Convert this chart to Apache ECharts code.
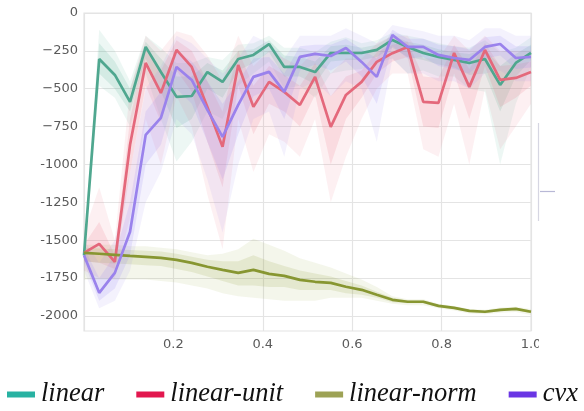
<!DOCTYPE html>
<html>
<head>
<meta charset="utf-8">
<script src="https://cdn.jsdelivr.net/npm/echarts@6/dist/echarts.min.js"></script>
<style>html,body{margin:0;padding:0;background:#fff}#c{width:584px;height:411px}</style>
</head>
<body>
<div id="c"></div>
<script>
const steps = [0, 0.034, 0.069, 0.103, 0.138, 0.172, 0.207, 0.241, 0.276, 0.310, 0.345, 0.379, 0.414, 0.448, 0.483, 0.517, 0.552, 0.586, 0.621, 0.655, 0.690, 0.724, 0.759, 0.793, 0.828, 0.862, 0.897, 0.931, 0.966, 1.0];
const xTicks = [0.2, 0.4, 0.6, 0.8, 1.0];
const yTicks = [0, -250, -500, -750, -1000, -1250, -1500, -1750, -2000];
const names = ['linear', 'linear-unit', 'linear-norm', 'cvx'];

const linearMean = [-1600,-304,-409,-587,-224,-390,-554,-548,-390,-455,-304,-277,-205,-356,-356,-390,-264,-264,-264,-244,-178,-224,-264,-290,-310,-330,-304,-475,-330,-264];
const linearOuterHi = [-1550,-110,-250,-450,-150,-230,-330,-330,-290,-310,-210,-200,-150,-230,-230,-260,-190,-160,-200,-180,-130,-150,-170,-200,-220,-230,-180,-260,-230,-160];
const linearOuterLo = [-1650,-480,-560,-750,-400,-700,-980,-850,-650,-700,-480,-400,-320,-500,-480,-560,-400,-380,-370,-330,-300,-400,-380,-420,-420,-500,-520,-1000,-600,-350];
const linearInnerHi = [-1570,-200,-320,-500,-190,-300,-420,-420,-330,-380,-250,-240,-180,-280,-290,-320,-220,-210,-230,-210,-150,-190,-210,-240,-260,-270,-240,-350,-270,-210];
const linearInnerLo = [-1630,-400,-500,-650,-300,-520,-760,-700,-500,-560,-380,-330,-260,-420,-420,-470,-320,-310,-310,-290,-230,-290,-310,-340,-360,-410,-400,-650,-420,-310];

const unitMean = [-1584,-1525,-1643,-870,-330,-528,-244,-356,-620,-884,-343,-620,-455,-521,-607,-422,-752,-541,-455,-323,-265,-224,-587,-594,-264,-488,-244,-442,-429,-389];
const unitOuterHi = [-1450,-1150,-1500,-500,-150,-250,-120,-150,-280,-450,-150,-350,-250,-300,-350,-250,-400,-300,-300,-200,-150,-150,-300,-300,-150,-250,-150,-250,-250,-250];
const unitOuterLo = [-1700,-1750,-1750,-1350,-700,-1000,-550,-750,-1200,-1560,-700,-1050,-800,-850,-950,-700,-1250,-950,-700,-500,-400,-400,-900,-950,-600,-1000,-500,-900,-750,-600];
const unitInnerHi = [-1530,-1380,-1600,-700,-230,-380,-180,-250,-450,-650,-250,-480,-350,-410,-480,-330,-550,-420,-380,-260,-210,-190,-420,-430,-210,-370,-200,-350,-340,-320];
const unitInnerLo = [-1640,-1650,-1690,-1050,-480,-720,-380,-520,-850,-1150,-480,-800,-600,-650,-750,-540,-1000,-700,-560,-400,-320,-290,-750,-760,-400,-700,-350,-620,-560,-480];

const normMean = [-1584,-1590,-1597,-1604,-1610,-1617,-1630,-1650,-1676,-1696,-1716,-1696,-1723,-1736,-1762,-1775,-1782,-1808,-1828,-1861,-1894,-1907,-1907,-1934,-1947,-1967,-1973,-1960,-1954,-1973];
const normOuterHi = [-1530,-1530,-1530,-1540,-1540,-1550,-1560,-1580,-1600,-1590,-1560,-1490,-1530,-1570,-1620,-1650,-1680,-1720,-1760,-1810,-1870,-1890,-1890,-1920,-1935,-1955,-1960,-1945,-1940,-1955];
const normOuterLo = [-1760,-1760,-1760,-1760,-1760,-1770,-1780,-1800,-1820,-1850,-1870,-1880,-1890,-1900,-1900,-1900,-1880,-1880,-1880,-1900,-1920,-1930,-1930,-1950,-1965,-1985,-1990,-1980,-1975,-1995];
const normInnerHi = [-1550,-1555,-1560,-1565,-1570,-1575,-1590,-1610,-1630,-1640,-1640,-1600,-1640,-1670,-1700,-1720,-1740,-1770,-1800,-1840,-1880,-1897,-1897,-1925,-1940,-1960,-1965,-1952,-1947,-1963];
const normInnerLo = [-1640,-1650,-1655,-1660,-1665,-1670,-1690,-1710,-1740,-1770,-1800,-1800,-1810,-1810,-1830,-1830,-1830,-1850,-1860,-1880,-1910,-1917,-1917,-1943,-1955,-1975,-1982,-1970,-1963,-1983];

const cvxMean = [-1600,-1848,-1716,-1445,-805,-693,-356,-442,-640,-818,-607,-422,-389,-521,-290,-270,-284,-231,-323,-422,-145,-224,-224,-277,-297,-310,-224,-205,-297,-290];
const cvxOuterHi = [-1500,-1650,-1500,-1050,-500,-350,-150,-200,-300,-400,-300,-150,-200,-300,-150,-150,-150,-100,-150,-200,-80,-100,-120,-150,-150,-180,-100,-100,-150,-150];
const cvxOuterLo = [-1700,-1950,-1900,-1700,-1250,-1050,-700,-800,-1100,-1450,-1000,-700,-650,-950,-500,-450,-550,-450,-500,-850,-300,-400,-400,-450,-450,-500,-400,-380,-450,-450];
const cvxInnerHi = [-1550,-1750,-1600,-1250,-650,-520,-250,-320,-450,-600,-450,-300,-290,-400,-220,-210,-210,-170,-240,-300,-110,-170,-170,-210,-220,-240,-160,-150,-220,-220];
const cvxInnerLo = [-1650,-1900,-1820,-1600,-1000,-870,-500,-600,-850,-1100,-800,-550,-500,-700,-380,-340,-380,-320,-420,-600,-220,-300,-290,-350,-370,-400,-300,-280,-370,-360];

const lineColors = ['#4fa78f', '#e4687b', '#879631', '#9a82ec'];
const bandRGB = ['80,176,150', '236,112,132', '150,162,60', '150,128,240'];
const legendColors = ['#28b2a2', '#e2174e', '#9da255', '#6a36e4'];

const groups = [
  [linearMean, linearOuterHi, linearOuterLo, linearInnerHi, linearInnerLo],
  [unitMean, unitOuterHi, unitOuterLo, unitInnerHi, unitInnerLo],
  [normMean, normOuterHi, normOuterLo, normInnerHi, normInnerLo],
  [cvxMean, cvxOuterHi, cvxOuterLo, cvxInnerHi, cvxInnerLo]
];

const pairs = arr => arr.map((v, i) => [steps[i], v]);

function bandSeries(hi, lo, fill) {
  const data = steps.map((x, i) => [x, lo[i], hi[i]]);
  return {
    type: 'custom', silent: true, clip: true, z: 1,
    encode: { x: 0, y: [1, 2] },
    data: data,
    renderItem: (params, api) => {
      if (params.dataIndex !== 0) return null;
      const top = data.map(d => api.coord([d[0], d[2]]));
      const bot = data.map(d => api.coord([d[0], d[1]])).reverse();
      return { type: 'polygon', shape: { points: top.concat(bot) }, style: { fill: fill, stroke: null } };
    }
  };
}

const series = [];
groups.forEach((g, k) => {
  const [mean, oHi, oLo, iHi, iLo] = g;
  series.push(bandSeries(oHi, oLo, 'rgba(' + bandRGB[k] + ',0.10)'));
  series.push(bandSeries(iHi, iLo, 'rgba(' + bandRGB[k] + ',0.16)'));
});
groups.forEach((g, k) => {
  series.push({
    name: names[k], type: 'line', data: pairs(g[0]), symbol: 'none',
    lineStyle: { color: lineColors[k], width: 2.7 }, itemStyle: { color: lineColors[k] }, z: 3
  });
});

const gridCol = '#e4e4e4';
const chart = echarts.init(document.getElementById('c'), null, { renderer: 'canvas' });
chart.setOption({
  animation: false,
  backgroundColor: '#fff',
  grid: { left: 84, right: 53, top: 13, bottom: 80, show: true, borderColor: gridCol, borderWidth: 1.2 },
  xAxis: {
    type: 'value', min: 0, max: 1, interval: 0.2,
    axisLine: { show: false }, axisTick: { show: false },
    splitLine: { lineStyle: { color: gridCol, width: 1.2 } },
    axisLabel: {
      showMinLabel: false, margin: 7, color: '#5a5a5a', fontSize: 13, fontFamily: 'DejaVu Sans',
      formatter: v => { const t = xTicks.find(x => Math.abs(x - v) < 1e-6); return t !== undefined ? t.toFixed(1) : ''; }
    }
  },
  yAxis: {
    type: 'value', min: -2100, max: 0, interval: 50,
    axisLine: { show: false }, axisTick: { show: false },
    splitLine: { lineStyle: { color: ['rgba(0,0,0,0)', 'rgba(0,0,0,0)', gridCol, 'rgba(0,0,0,0)', 'rgba(0,0,0,0)'], width: 1.2 } },
    axisLabel: {
      margin: 6, color: '#5a5a5a', fontSize: 13, fontFamily: 'DejaVu Sans',
      formatter: v => {
        const t = yTicks.find(y => Math.abs(y - v) < 1e-6);
        if (t === undefined) return '';
        if (t === 0) return '0';
        return (Math.abs(t) < 1000 ? '\u2212' : '-') + Math.abs(t);
      }
    }
  },
  legend: {
    left: 7, top: 381, width: 584, padding: 0, itemWidth: 28, itemHeight: 6, itemGap: 32, icon: 'rect',
    textStyle: { fontFamily: 'Liberation Serif', fontStyle: 'italic', fontSize: 26.5, color: '#111', padding: [0, 0, 0, 1] },
    data: names.map((n, k) => ({ name: n, icon: 'rect', itemStyle: { color: legendColors[k] } }))
  },
  graphic: [
    { type: 'rect', shape: { x: 539, y: 334, width: 45, height: 24 }, style: { fill: '#fff' }, z: 100 },
    { type: 'line', shape: { x1: 538.5, y1: 123, x2: 538.5, y2: 221 }, style: { stroke: '#d6d6e2', lineWidth: 1.2 }, z: 100 },
    { type: 'line', shape: { x1: 540, y1: 191.5, x2: 555, y2: 191.5 }, style: { stroke: '#b8b8d6', lineWidth: 1.2 }, z: 100 }
  ],
  series: series
});
</script>
</body>
</html>
